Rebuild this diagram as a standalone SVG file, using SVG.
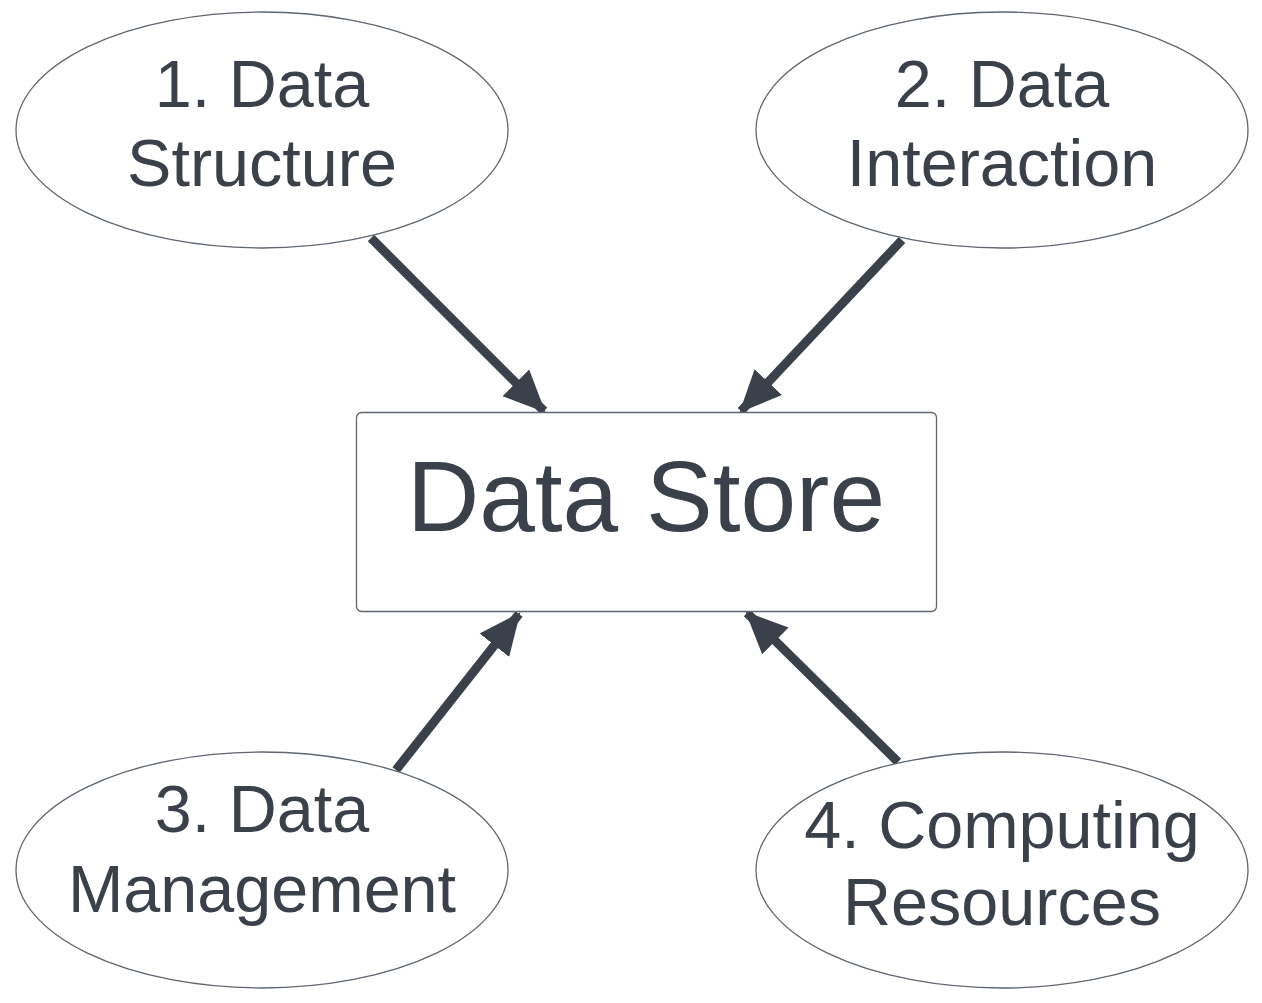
<svg xmlns="http://www.w3.org/2000/svg" width="1262" height="1003" viewBox="0 0 1262 1003">
<style>
.node{fill:#ffffff;stroke:#5e6670;stroke-width:1.3}
.t{font-family:"Liberation Sans",Arial,sans-serif;fill:#3a414a;text-anchor:middle}
.s{font-size:66.5px}
.b{font-size:100px}
.c{stroke:#3a414a;stroke-width:9;fill:none}
</style>
<defs>
<marker id="ah" markerUnits="userSpaceOnUse" markerWidth="42" markerHeight="42" viewBox="0 0 38 34" refX="36" refY="17" orient="auto">
<polygon points="0,0 38,17 0,34" fill="#3a414a"/>
</marker>
</defs>
<rect width="1262" height="1003" fill="#ffffff"/>
<g id="connectors">
<line class="c" x1="371" y1="238" x2="544" y2="411" marker-end="url(#ah)"/>
<line class="c" x1="902" y1="240" x2="741" y2="411" marker-end="url(#ah)"/>
<line class="c" x1="396" y1="770" x2="519" y2="614" marker-end="url(#ah)"/>
<line class="c" x1="898" y1="762" x2="747" y2="613" marker-end="url(#ah)"/>
</g>
<g id="store">
<rect class="node" x="356.5" y="412.5" width="580" height="199" rx="5"/>
<text class="t b" x="646" y="531">Data Store</text>
</g>
<g id="n1">
<ellipse class="node" cx="262" cy="130" rx="246" ry="118"/>
<text class="t s" x="262" y="107">1. Data</text>
<text class="t s" x="262" y="186">Structure</text>
</g>
<g id="n2">
<ellipse class="node" cx="1002" cy="130" rx="246" ry="118"/>
<text class="t s" x="1002" y="107">2. Data</text>
<text class="t s" x="1002" y="186">Interaction</text>
</g>
<g id="n3">
<ellipse class="node" cx="262" cy="870" rx="246" ry="118"/>
<text class="t s" x="262" y="832">3. Data</text>
<text class="t s" x="262" y="912">Management</text>
</g>
<g id="n4">
<ellipse class="node" cx="1002" cy="870" rx="246" ry="118"/>
<text class="t s" x="1002" y="848">4. Computing</text>
<text class="t s" x="1002" y="925">Resources</text>
</g>
</svg>
